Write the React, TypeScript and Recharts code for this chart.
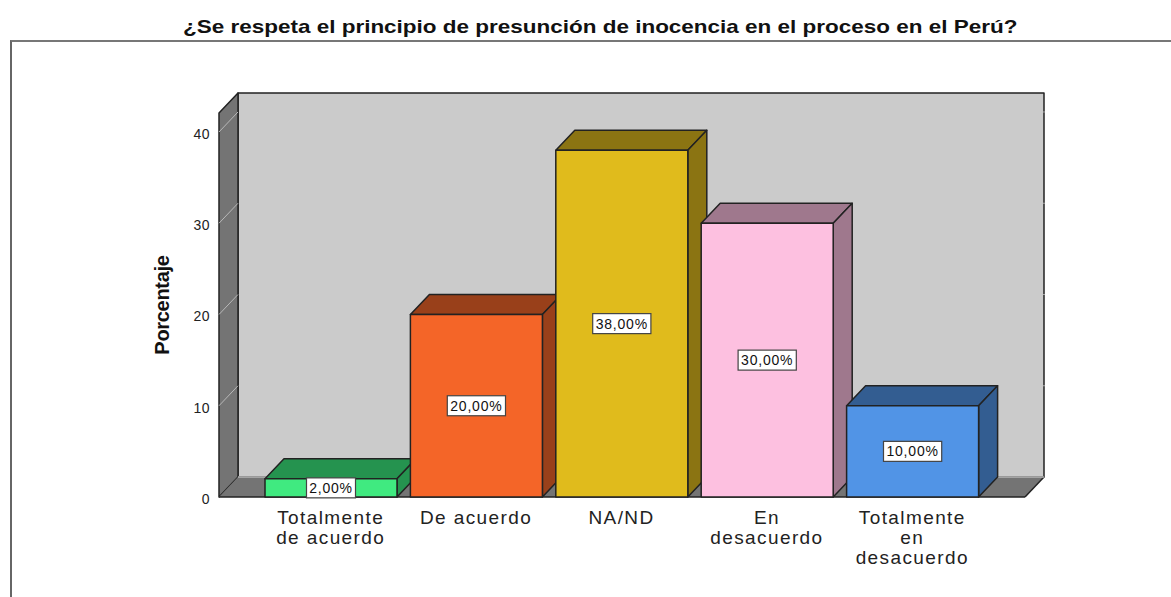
import React from "react";
import { BarChart, Bar, XAxis, YAxis, ReferenceArea, ReferenceLine, LabelList } from "recharts";

const categories = ["Totalmente\nde acuerdo", "De acuerdo", "NA/ND", "En\ndesacuerdo", "Totalmente\nen\ndesacuerdo"];
const percentages = [2, 20, 38, 30, 10];
const yTicks = [0, 10, 20, 30, 40];
const frontColors = ["#40ea80", "#f46528", "#e0bb1c", "#fdc0e0", "#5194e6"];
const sideColors = ["#25934f", "#99401a", "#8b7412", "#9f788d", "#335d91"];

const data = categories.map((name, i) => ({ name, value: percentages[i] }));

const DEPTH = 19;
const PAD_LEFT = 39;
const PAD_RIGHT = 40;
const EDGE = "#222";
const FONT = "'Liberation Sans', Arial, sans-serif";

// the reference area only spans the padded band range, so widen it back to the floor
const Wall = ({ x: bandX, y, width: bandWidth, height }: any) => {
  const x = bandX - PAD_LEFT;
  const width = bandWidth + PAD_LEFT + PAD_RIGHT;
  const bottom = y + height;
  const right = x + width;
  return (
    <g stroke={EDGE} strokeWidth={1.5} strokeLinejoin="round">
      <rect x={x + DEPTH} y={y - DEPTH - 1} width={width} height={height} fill="#cbcbcb" />
      <polygon
        points={`${x},${y} ${x + DEPTH},${y - DEPTH - 1} ${x + DEPTH},${bottom - DEPTH - 1} ${x},${bottom}`}
        fill="#747474"
      />
      <polygon
        points={`${x},${bottom} ${x + DEPTH},${bottom - DEPTH - 1} ${right + DEPTH},${bottom - DEPTH - 1} ${right},${bottom}`}
        fill="#747474"
        strokeWidth={0}
      />
      <line x1={x} y1={bottom} x2={right} y2={bottom} />
      <line x1={right} y1={bottom} x2={right + DEPTH} y2={bottom - DEPTH - 1} />
      <line x1={x + DEPTH} y1={bottom - DEPTH - 1} x2={right + DEPTH} y2={bottom - DEPTH - 1} stroke="#b5b5b5" />
    </g>
  );
};

const GridLine = (props: any) => {
  const { x1, x2, y1 } = props;
  const back = y1 - DEPTH - 1;
  return (
    <g fill="none" strokeWidth={1}>
      <line x1={x1} y1={y1} x2={x1 + DEPTH} y2={back} stroke="#b8b8b8" />
      <line x1={x2 + DEPTH - 1} y1={back} x2={x2 + DEPTH + 1} y2={back} stroke="#a8a8a8" />
    </g>
  );
};

const Bar3D = ({ x, y, width, height, index }: any) => {
  const right = x + width;
  const bottom = y + height;
  return (
    <g stroke={EDGE} strokeWidth={1.5} strokeLinejoin="round">
      <polygon
        points={`${x},${y} ${x + DEPTH},${y - DEPTH - 1} ${right + DEPTH},${y - DEPTH - 1} ${right},${y}`}
        fill={sideColors[index]}
      />
      <polygon
        points={`${right},${y} ${right + DEPTH},${y - DEPTH - 1} ${right + DEPTH},${bottom - DEPTH - 1} ${right},${bottom}`}
        fill={sideColors[index]}
      />
      <rect x={x} y={y} width={width} height={height} fill={frontColors[index]} />
    </g>
  );
};

const ValueBox = ({ x, y, width, height, value }: any) => {
  const text = `${Number(value).toFixed(2).replace(".", ",")}%`;
  const boxWidth = text.length * 9.2 + 3;
  const cx = x + width / 2;
  const cy = y + height / 2;
  return (
    <g>
      <rect x={cx - boxWidth / 2} y={cy - 10} width={boxWidth} height={20} fill="#fff" stroke="#444" strokeWidth={1.2} />
      <text x={cx} y={cy + 5} textAnchor="middle" fontSize={14} letterSpacing={0.8} fontFamily={FONT} fill="#111">
        {text}
      </text>
    </g>
  );
};

const CategoryTick = ({ x, y, payload }: any) => (
  <text x={x} y={y} textAnchor="middle" fontSize={19} letterSpacing={1.4} fontFamily={FONT} fill="#222">
    {String(payload.value)
      .split("\n")
      .map((line, i) => (
        <tspan key={line} x={x} dy={i === 0 ? 19 : 20}>
          {line}
        </tspan>
      ))}
  </text>
);

const ValueTick = ({ x, y, payload }: any) => (
  <text x={x} y={y + 7} textAnchor="end" fontSize={14} letterSpacing={0.5} fontFamily={FONT} fill="#222">
    {payload.value}
  </text>
);

export default function App() {
  return (
    <div style={{ position: "absolute", left: 0, top: 0, width: 1171, height: 597, overflow: "hidden", background: "#fff" }}>
      <div
        style={{
          position: "absolute",
          left: 183,
          top: 16,
          fontFamily: FONT,
          fontWeight: 700,
          fontSize: 19,
          lineHeight: "22px",
          whiteSpace: "nowrap",
          color: "#111",
          transform: "scaleX(1.183)",
          transformOrigin: "left",
        }}
      >
        ¿Se respeta el principio de presunción de inocencia en el proceso en el Perú?
      </div>
      <div
        style={{
          position: "absolute",
          left: 10,
          top: 40,
          width: 1171,
          height: 600,
          borderLeft: "2px solid #666",
          borderTop: "2px solid #777",
        }}
      />
      <div style={{ position: "absolute", left: 0, top: 0 }}>
        <BarChart
          width={1171}
          height={597}
          data={data}
          margin={{ top: 113, right: 146, bottom: 0, left: 159 }}
          barSize={132}
        >
          <XAxis
            dataKey="name"
            axisLine={false}
            tickLine={false}
            interval={0}
            height={100}
            padding={{ left: PAD_LEFT, right: PAD_RIGHT }}
            tick={<CategoryTick />}
          />
          <YAxis
            width={60}
            domain={[0, 42.08]}
            ticks={yTicks}
            axisLine={false}
            tickLine={false}
            tickMargin={3}
            tick={<ValueTick />}
            label={{
              value: "Porcentaje",
              angle: -90,
              position: "left",
              offset: -3,
              style: { fontFamily: FONT, fontWeight: 700, fontSize: 20, letterSpacing: -0.3, fill: "#111", textAnchor: "middle" },
            }}
          />
          <ReferenceArea y1={0} y2={42.08} shape={<Wall />} ifOverflow="visible" />
          {yTicks.slice(1).map((t) => (
            <ReferenceLine key={t} y={t} shape={<GridLine />} />
          ))}
          <Bar dataKey="value" isAnimationActive={false} shape={<Bar3D />}>
            <LabelList dataKey="value" content={<ValueBox />} />
          </Bar>
        </BarChart>
      </div>
    </div>
  );
}
